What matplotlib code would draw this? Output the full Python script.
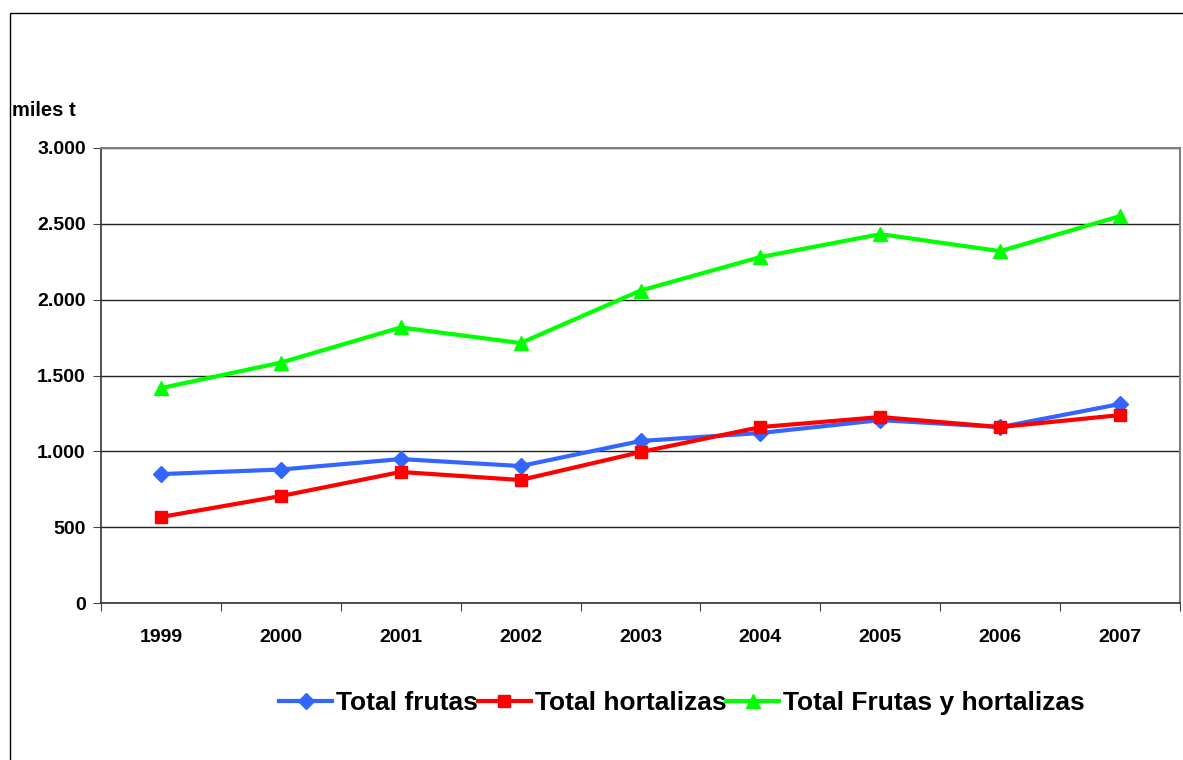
import numpy as np
import matplotlib.pyplot as plt
from matplotlib.patches import Rectangle
from matplotlib.ticker import FuncFormatter

plt.rcParams['font.family'] = ['Liberation Sans', 'DejaVu Sans']

years = ['1999', '2000', '2001', '2002', '2003', '2004', '2005', '2006', '2007']
frutas = [850, 880, 949, 903, 1068, 1121, 1206, 1160, 1312]
hortalizas = [567, 705, 864, 811, 995, 1160, 1226, 1160, 1239]
total = [1417, 1585, 1817, 1714, 2060, 2281, 2432, 2320, 2551]

fig = plt.figure(figsize=(11.83, 7.6), dpi=100)
ax = fig.add_axes([101/1183, 157/760, 1079/1183, 455/760])

x = np.arange(len(years))
ax.plot(x, frutas, color='#3366ff', lw=3, marker='D', ms=8, label='Total frutas')
ax.plot(x, hortalizas, color='#ff0000', lw=3, marker='s', ms=9, label='Total hortalizas')
ax.plot(x, total, color='#00ff00', lw=3, marker='^', ms=10, label='Total Frutas y hortalizas')

ax.set_xlim(-0.5, len(years) - 0.5)
ax.set_ylim(0, 3000)
ax.set_yticks(np.arange(0, 3001, 500))
ax.yaxis.set_major_formatter(FuncFormatter(lambda v, p: f'{int(v):,}'.replace(',', '.')))
ax.grid(axis='y', color='#222222', lw=1)
ax.set_axisbelow(True)

# category labels sit between the boundary ticks
ax.set_xticks(np.arange(-0.5, len(years), 1))
ax.set_xticklabels([])
ax.set_xticks(x, minor=True)
ax.set_xticklabels(years, minor=True)
ax.tick_params(axis='x', which='minor', length=0, pad=19)
ax.tick_params(axis='x', which='major', length=6, direction='out', color='#444444')
ax.tick_params(axis='y', length=6, direction='out', color='#444444', pad=5)
for lbl in ax.get_xticklabels(minor=True) + ax.get_yticklabels():
    lbl.set_fontsize(14)
    lbl.set_fontweight('bold')

for side in ['top', 'right']:
    ax.spines[side].set_color('#808080')
    ax.spines[side].set_linewidth(1.5)
for side in ['left', 'bottom']:
    ax.spines[side].set_color('#333333')
    ax.spines[side].set_linewidth(1.2)

fig.text(12/1183, 1 - 111/760, 'miles t', fontsize=14.5, fontweight='bold', va='center', ha='left')

leg = fig.legend(loc='center', bbox_to_anchor=(682/1183, 1 - 703/760), ncol=3, frameon=False,
                 prop={'size': 19, 'weight': 'bold'}, handlelength=2.0, handletextpad=0.15,
                 columnspacing=0.0)

# outer chart frame
fig.patches.append(Rectangle((10/1183, -0.01), 1.2, 1 - 13/760 + 0.01, transform=fig.transFigure,
                             fill=False, edgecolor='black', lw=1))

fig.savefig('out.png', dpi=100)
